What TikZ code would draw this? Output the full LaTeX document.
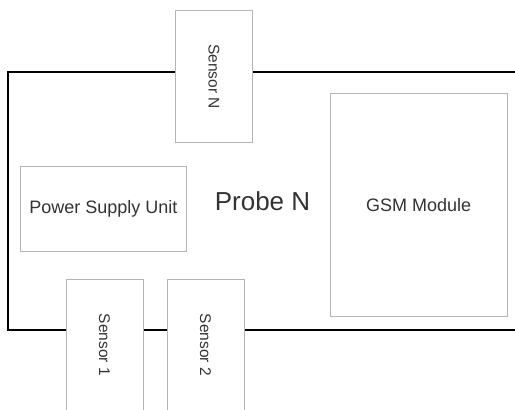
\documentclass[tikz,border=0pt]{standalone}
\usepackage{fontspec}
\setmainfont{Liberation Sans}
\definecolor{boxgray}{HTML}{B4B4B4}
\definecolor{txtgray}{HTML}{333333}
\begin{document}
\begin{tikzpicture}[x=1pt,y=1pt,
  part/.style={draw=boxgray, line width=1pt, fill=white, inner sep=0pt, text=txtgray, font=\fontsize{18}{20}\selectfont},
  sensorbox/.style={part, minimum width=77pt, font=\fontsize{15.5}{18}\selectfont},
  sensortext/.style={text=txtgray, rotate=-90, font=\fontsize{15.5}{18}\selectfont},
  wire/.style={line width=2.6pt, black}]
\useasboundingbox (0,0) rectangle (515,-410);
\clip (0,0) rectangle (515,-410);
% outline of the probe
\coordinate (tr) at (520,-72);
\coordinate (tl) at (8,-72);
\coordinate (bl) at (8,-330);
\coordinate (br) at (520,-330);
\draw[wire] (tr) -- (tl) -- (bl) -- (br);
% parts
\node[sensorbox, minimum height=132pt, anchor=north west] (sn) at (175,-10) {};
\node[sensortext] (snt) at (sn.center) {Sensor N};
\node[part, minimum width=166pt, minimum height=85pt, anchor=north west] (psu) at (20,-165.5) {Power Supply Unit};
\node[text=txtgray, font=\fontsize{26}{29}\selectfont] (probe) at (262.5,-201) {Probe N};
\node[part, minimum width=176.5pt, minimum height=223pt, anchor=north west] (gsm) at (330,-93) {GSM Module};
\node[sensorbox, minimum height=150pt, anchor=north west] (s1) at (66,-279) {};
\node[sensortext] (s1t) at (104.5,-345) {Sensor 1};
\node[sensorbox, minimum height=150pt, anchor=north west] (s2) at (167,-279) {};
\node[sensortext] (s2t) at (205.5,-345) {Sensor 2};
\end{tikzpicture}
\end{document}
